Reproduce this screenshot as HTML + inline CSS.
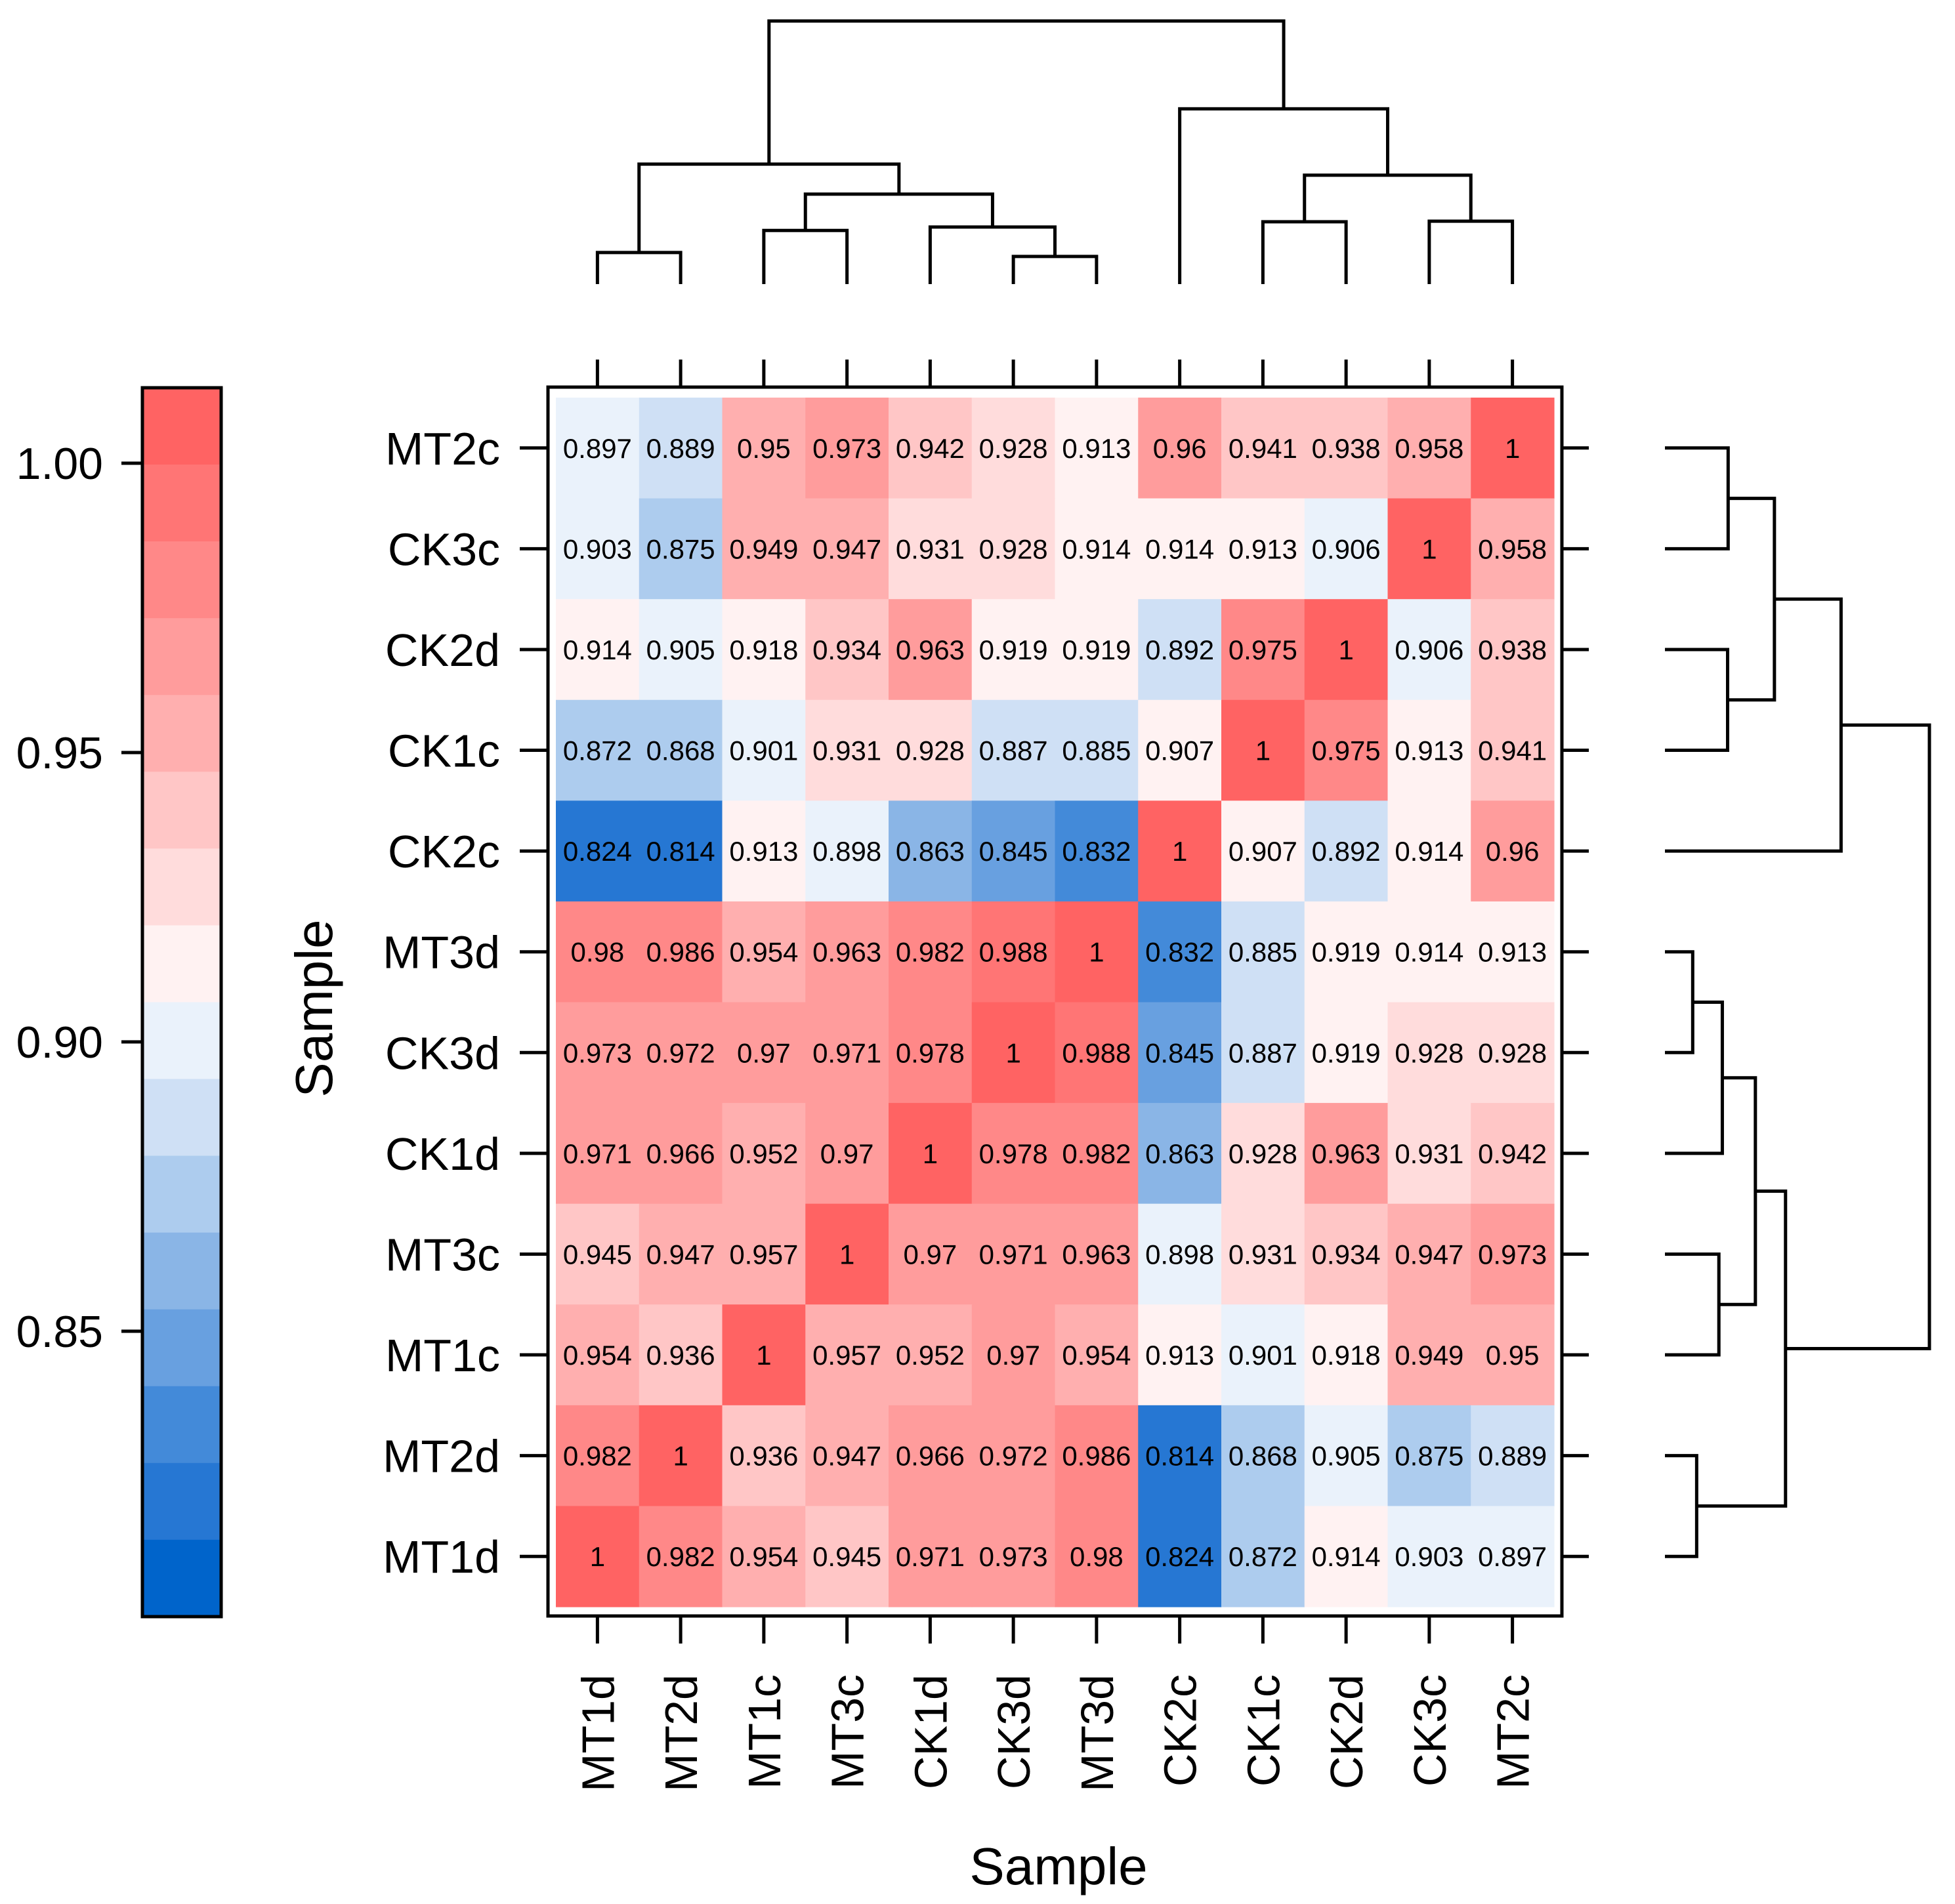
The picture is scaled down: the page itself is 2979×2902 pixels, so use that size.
<!DOCTYPE html>
<html><head><meta charset="utf-8"><style>
html,body{margin:0;padding:0;background:#fff;}
svg{display:block;font-family:"Liberation Sans",Arial,sans-serif;}
</style></head><body>
<svg id="chart" xmlns="http://www.w3.org/2000/svg" width="2979" height="2902" viewBox="0 0 2979 2902">
<rect width="2979" height="2902" fill="#fff"/>
<g id="colorbar"></g>
<g id="cells"></g>
<g id="axes"></g>
<g id="topdendro"></g>
<g id="rightdendro"></g>
<text x="1613" y="2872" font-size="80" text-anchor="middle">Sample</text>
<text transform="translate(506,1537) rotate(-90)" font-size="80" text-anchor="middle">Sample</text>
</svg>
<script>
const colOrder = ["MT1d","MT2d","MT1c","MT3c","CK1d","CK3d","MT3d","CK2c","CK1c","CK2d","CK3c","MT2c"];
const rowOrder = ["MT2c","CK3c","CK2d","CK1c","CK2c","MT3d","CK3d","CK1d","MT3c","MT1c","MT2d","MT1d"];
const row_MT2c = [0.897,0.889,0.95,0.973,0.942,0.928,0.913,0.96,0.941,0.938,0.958,1];
const row_CK3c = [0.903,0.875,0.949,0.947,0.931,0.928,0.914,0.914,0.913,0.906,1,0.958];
const row_CK2d = [0.914,0.905,0.918,0.934,0.963,0.919,0.919,0.892,0.975,1,0.906,0.938];
const row_CK1c = [0.872,0.868,0.901,0.931,0.928,0.887,0.885,0.907,1,0.975,0.913,0.941];
const row_CK2c = [0.824,0.814,0.913,0.898,0.863,0.845,0.832,1,0.907,0.892,0.914,0.96];
const row_MT3d = [0.98,0.986,0.954,0.963,0.982,0.988,1,0.832,0.885,0.919,0.914,0.913];
const row_CK3d = [0.973,0.972,0.97,0.971,0.978,1,0.988,0.845,0.887,0.919,0.928,0.928];
const row_CK1d = [0.971,0.966,0.952,0.97,1,0.978,0.982,0.863,0.928,0.963,0.931,0.942];
const row_MT3c = [0.945,0.947,0.957,1,0.97,0.971,0.963,0.898,0.931,0.934,0.947,0.973];
const row_MT1c = [0.954,0.936,1,0.957,0.952,0.97,0.954,0.913,0.901,0.918,0.949,0.95];
const row_MT2d = [0.982,1,0.936,0.947,0.966,0.972,0.986,0.814,0.868,0.905,0.875,0.889];
const row_MT1d = [1,0.982,0.954,0.945,0.971,0.973,0.98,0.824,0.872,0.914,0.903,0.897];
const matrixRows = [row_MT2c,row_CK3c,row_CK2d,row_CK1c,row_CK2c,row_MT3d,row_CK3d,row_CK1d,row_MT3c,row_MT1c,row_MT2d,row_MT1d];
const keyTicks = [1.00,0.95,0.90,0.85];
const keyTickLabels = ["1.00","0.95","0.90","0.85"];
const keyTop = 1.01304, keyBinWidth = 0.013272;
const palette = ["#FF6363","#FF7575","#FF8888","#FF9C9C","#FFAFAF","#FFC6C6","#FFDCDC","#FFF2F2","#EAF2FB","#CFE0F5","#ADCCEE","#8AB5E6","#68A0E0","#438AD9","#2677D3","#0064CB"];
// dendrogram merges: [left, right, height (fraction of root)]
const mergeLeft  = ["MT1d","MT1c","CK3d","CK1d","m1","m0","CK1c","CK3c","m6","CK2c","m5"];
const mergeRight = ["MT2d","MT3c","MT3d","m2","m3","m4","CK2d","MT2c","m7","m8","m9"];
const mergeHeight= [0.12,0.204,0.105,0.217,0.342,0.456,0.237,0.239,0.414,0.666,1.0];

const NS="http://www.w3.org/2000/svg";
function mk(tag,attrs,parent){const e=document.createElementNS(NS,tag);for(const k in attrs)e.setAttribute(k,attrs[k]);parent.appendChild(e);return e;}
const cellX0=847, cellW=(2368-847)/12, cellY0=606, cellH=(2449-606)/12;
const xCol=i=>cellX0+cellW*(i+0.5);
const yRow=i=>cellY0+cellH*(i+0.5);
const keyY=v=>706+(1-v)/0.05*441;
function binOf(v){let b=Math.floor((keyTop-v)/keyBinWidth);return Math.max(0,Math.min(15,b));}

const cb=document.getElementById('colorbar');
for(let b=0;b<16;b++){
  const v0=keyTop-b*keyBinWidth, v1=v0-keyBinWidth;
  const r=mk('rect',{x:217,y:keyY(v0),width:120,height:keyY(v1)-keyY(v0)+0.5,fill:palette[b]},cb);
  
  
}
mk('rect',{x:217,y:591,width:120,height:1873,fill:'none',stroke:'#000','stroke-width':5},cb);
keyTicks.forEach((t,i)=>{
  const y=keyY(t);
  const l=mk('line',{x1:185,x2:217,y1:y,y2:y,stroke:'#000','stroke-width':5},cb);
  
  
  const tx=mk('text',{x:157,y:y+24,'font-size':68,'text-anchor':'end'},cb);
  tx.textContent=keyTickLabels[i];
  
  
});

const cg=document.getElementById('cells');
matrixRows.forEach((row,ri)=>{
  row.forEach((v,ci)=>{
    const r=mk('rect',{x:cellX0+cellW*ci,y:cellY0+cellH*ri,width:cellW+0.6,height:cellH+0.6,fill:palette[binOf(v)]},cg);
    
    
    const t=mk('text',{x:xCol(ci),y:yRow(ri)+15,'font-size':42,'text-anchor':'middle'},cg);
    t.textContent=String(v);
    
    
  });
});

const ax=document.getElementById('axes');
mk('rect',{x:835,y:590,width:1545,height:1873,fill:'none',stroke:'#000','stroke-width':5},ax);
colOrder.forEach((n,i)=>{
  const x=xCol(i);
  mk('line',{x1:x,x2:x,y1:2463,y2:2505,stroke:'#000','stroke-width':5},ax);
  mk('line',{x1:x,x2:x,y1:548,y2:590,stroke:'#000','stroke-width':5},ax);
  const t=mk('text',{transform:`translate(${x+25},2552) rotate(-90)`,'font-size':70,'text-anchor':'end'},ax);
  t.textContent=n;
  
  
});
rowOrder.forEach((n,i)=>{
  const y=yRow(i);
  mk('line',{x1:792,x2:835,y1:y,y2:y,stroke:'#000','stroke-width':5},ax);
  mk('line',{x1:2380,x2:2421,y1:y,y2:y,stroke:'#000','stroke-width':5},ax);
  const t=mk('text',{x:762,y:y+25,'font-size':70,'text-anchor':'end'},ax);
  t.textContent=n;
  
  
});

function drawTree(g,leafPos,hPos,horizontal){
  const pos={},ht={};
  Object.keys(leafPos).forEach(k=>{pos[k]=leafPos[k];ht[k]=0;});
  mergeLeft.forEach((a,i)=>{
    const b=mergeRight[i],h=mergeHeight[i],id='m'+i;
    const pa=pos[a],pb=pos[b],H=hPos(h),Ha=hPos(ht[a]),Hb=hPos(ht[b]);
    let d;
    if(!horizontal) d=`M${pa},${Ha}V${H}H${pb}V${Hb}`;
    else d=`M${Ha},${pa}H${H}V${pb}H${Hb}`;
    const p=mk('path',{d:d,fill:'none',stroke:'#000','stroke-width':5,'stroke-linejoin':'miter'},g);
    
    
    pos[id]=(pa+pb)/2; ht[id]=h;
  });
}
const topLeaf={}; colOrder.forEach((n,i)=>topLeaf[n]=xCol(i));
drawTree(document.getElementById('topdendro'),topLeaf,h=>433-h*401,false);
const rightLeaf={}; rowOrder.forEach((n,i)=>rightLeaf[n]=yRow(i));
drawTree(document.getElementById('rightdendro'),rightLeaf,h=>2537+h*403,true);
</script>
</body></html>
